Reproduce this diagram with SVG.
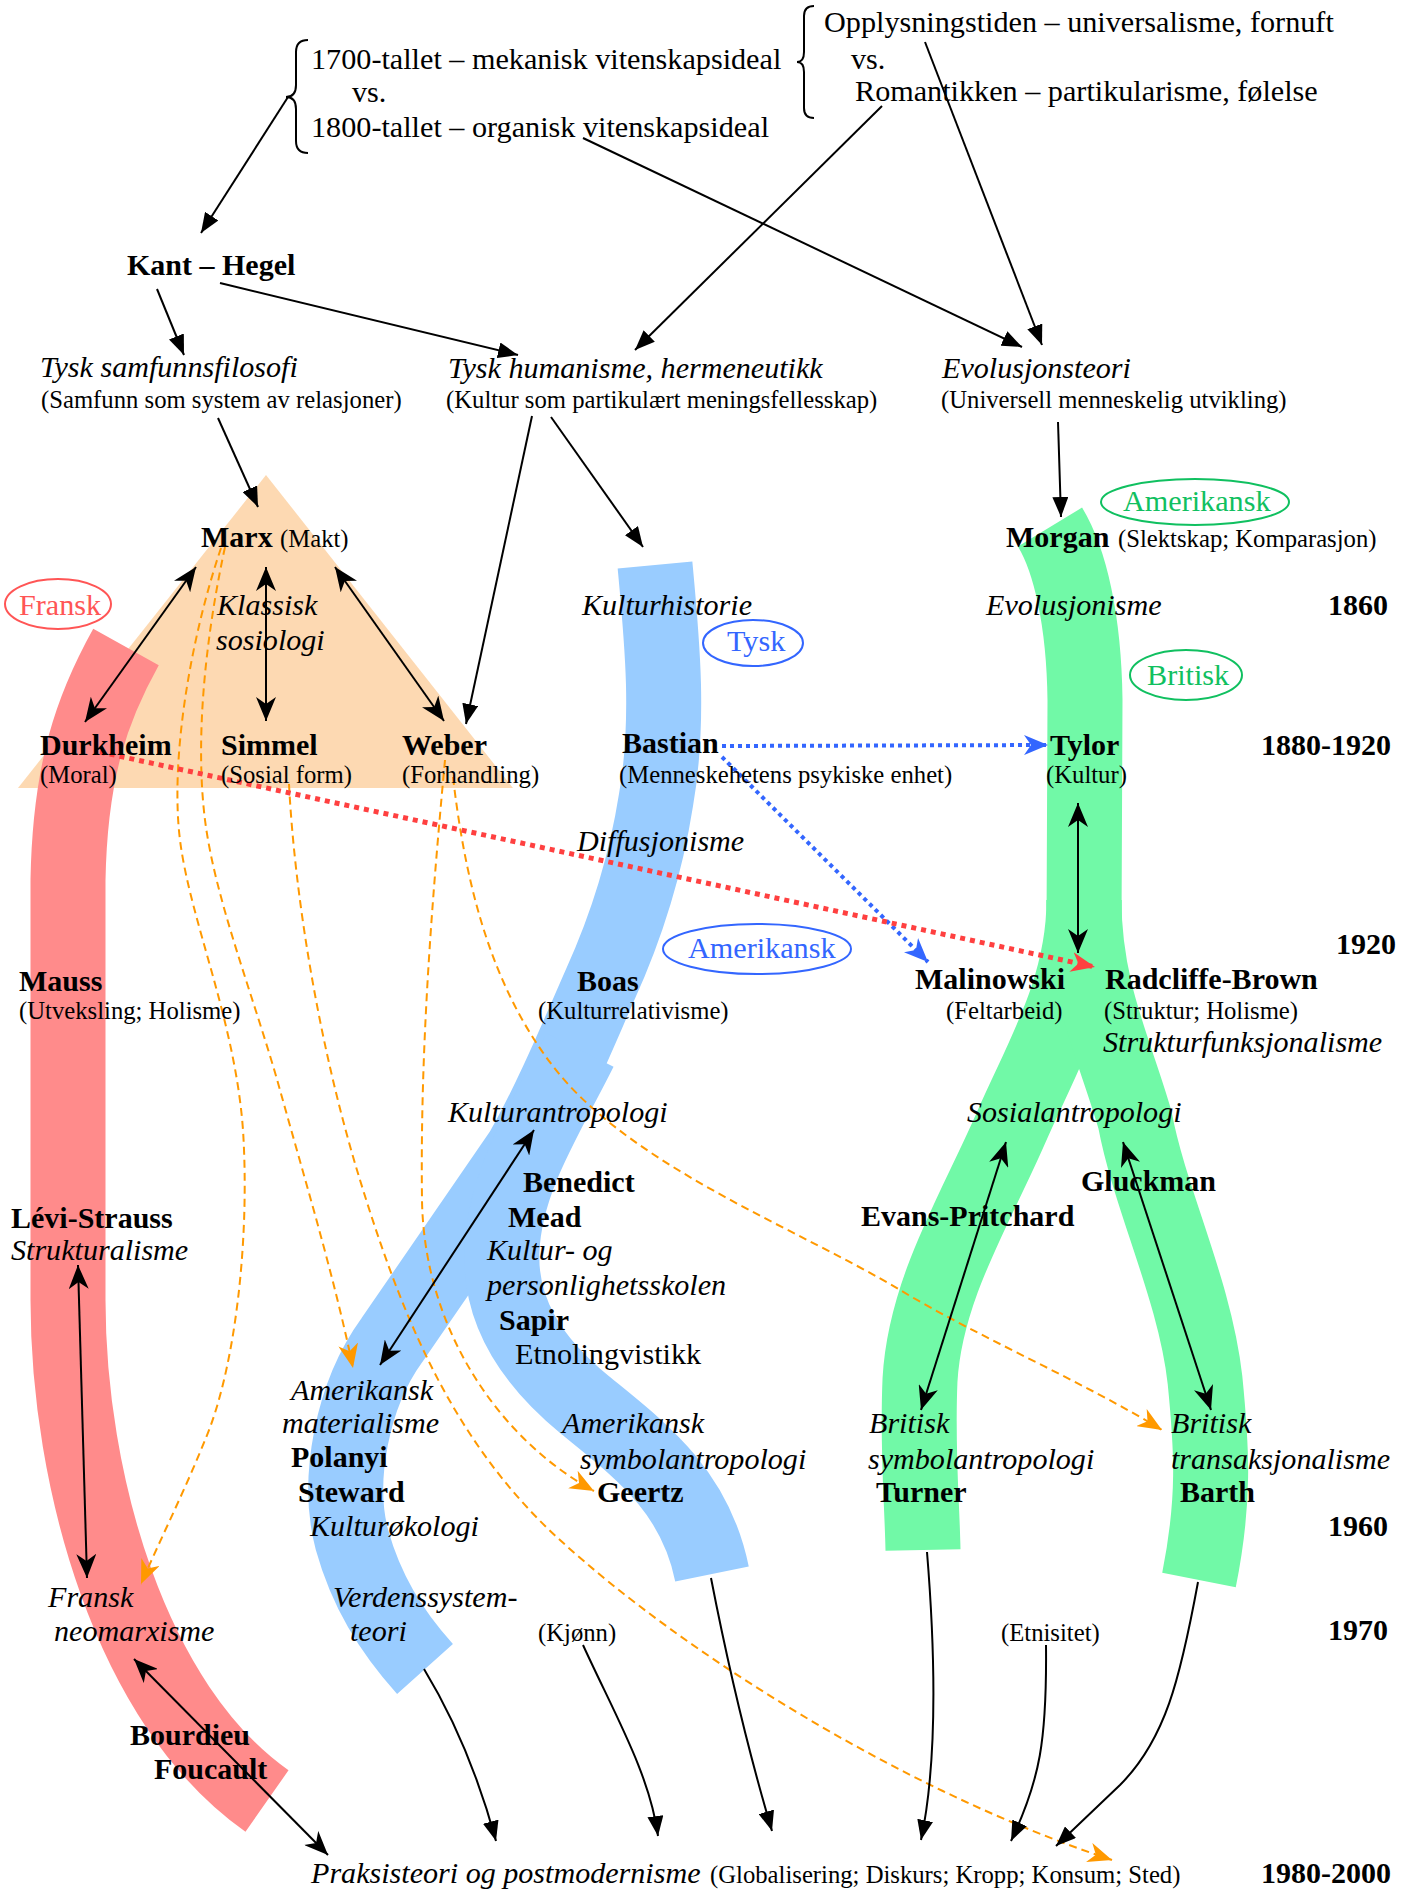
<svg xmlns="http://www.w3.org/2000/svg" width="1405" height="1891" viewBox="0 0 1405 1891">
<style>
text{font-family:"Liberation Serif","Times New Roman",serif;fill:#000}
.r{font-size:30.2px}
.b{font-size:30px;font-weight:bold}
.i{font-size:30.1px;font-style:italic}
.s{font-size:24.7px}
.ln{fill:none;stroke:#000;stroke-width:2}
.or{fill:none;stroke:#FF9900;stroke-width:2;stroke-dasharray:8 5}
.bd{fill:none;stroke:#3366FF;stroke-width:4;stroke-dasharray:4 4}
.rd{fill:none;stroke:#FF4040;stroke-width:5;stroke-dasharray:5 5}
.band{fill:none;stroke-width:75;stroke-linecap:butt;stroke-linejoin:round}
.ell{fill:none;stroke-width:2}
</style>
<defs>
<marker id="tri" viewBox="0 0 20 16" refX="20" refY="8" markerWidth="20" markerHeight="16" markerUnits="userSpaceOnUse" orient="auto"><path d="M0,0L20,8L0,16z" fill="#000"/></marker>
<marker id="stl" viewBox="0 0 24 20" refX="24" refY="10" markerWidth="24" markerHeight="20" markerUnits="userSpaceOnUse" orient="auto-start-reverse"><path d="M0,0L24,10L0,20L7,10z" fill="#000"/></marker>
<marker id="stlO" viewBox="0 0 24 20" refX="24" refY="10" markerWidth="24" markerHeight="20" markerUnits="userSpaceOnUse" orient="auto"><path d="M0,0L24,10L0,20L7,10z" fill="#FF9900"/></marker>
<marker id="stlB" viewBox="0 0 24 20" refX="24" refY="10" markerWidth="24" markerHeight="20" markerUnits="userSpaceOnUse" orient="auto"><path d="M0,0L24,10L0,20L7,10z" fill="#3366FF"/></marker>
<marker id="stlR" viewBox="0 0 24 20" refX="24" refY="10" markerWidth="24" markerHeight="20" markerUnits="userSpaceOnUse" orient="auto"><path d="M0,0L24,10L0,20L7,10z" fill="#FF4040"/></marker>
</defs>

<g id="bands">
<polygon id="triangle-klassisk" points="266,475 513,788 18,788" fill="#FDD9B2"/>
<path id="band-fransk" class="band" stroke="#FF8B8B" stroke-width="74" d="M126,647 C92,708 70,770 68,880 L68,1300 C68,1480 130,1705 267,1801"/>
<path id="band-tysk-amerikansk" class="band" stroke="#99CCFF" d="M655,565 C662,640 670,720 656,800 C645,870 625,930 600,985 C578,1035 552,1098 522,1151 L392,1340 C352,1395 336,1480 352,1540 C366,1590 390,1630 425,1669"/>
<path id="band-amerikansk-symbol" class="band" stroke="#99CCFF" d="M580,1050 C545,1120 505,1180 502,1250 C499,1310 530,1360 585,1405 C640,1450 695,1490 712,1574"/>
<path id="band-britisk-trunk" class="band" stroke="#71F9A7" d="M1050,527 C1070,560 1084,620 1085,700 L1084,930"/>
<path id="band-britisk-symbol" class="band" stroke="#71F9A7" d="M1084,900 C1084,990 1040,1060 1010,1130 C975,1210 925,1290 920,1380 C917,1450 922,1500 923,1550"/>
<path id="band-britisk-trans" class="band" stroke="#71F9A7" d="M1084,900 C1084,990 1115,1050 1135,1120 C1150,1200 1195,1290 1205,1380 C1212,1450 1215,1500 1199,1580"/>
</g>

<g id="connectors">
<path class="ln" d="M288,97 L201,233" marker-end="url(#tri)"/>
<path class="ln" d="M157,289 L184,355" marker-end="url(#tri)"/>
<path class="ln" d="M220,283 L518,355" marker-end="url(#tri)"/>
<path class="ln" d="M882,106 L635,350" marker-end="url(#tri)"/>
<path class="ln" d="M583,138 L1022,347" marker-end="url(#tri)"/>
<path class="ln" d="M925,42 L1042,345" marker-end="url(#tri)"/>
<path class="ln" d="M1058,422 L1061,517" marker-end="url(#tri)"/>
<path class="ln" d="M218,418 L258,507" marker-end="url(#tri)"/>
<path class="ln" d="M532,416 L466,724" marker-end="url(#tri)"/>
<path class="ln" d="M551,417 L643,547" marker-end="url(#tri)"/>

<path class="or" d="M221,548 C190,640 170,760 180,840 C190,920 235,1020 243,1130 C250,1240 235,1370 205,1440 C185,1490 160,1540 141,1584" marker-end="url(#stlO)"/>
<path class="or" d="M225,547 C205,640 195,740 205,820 C215,900 255,1000 280,1090 C305,1180 335,1280 353,1368" marker-end="url(#stlO)"/>
<path class="or" d="M289,784 C295,900 320,1050 360,1180 C400,1310 450,1440 560,1540 C680,1650 900,1790 1112,1860" marker-end="url(#stlO)"/>
<path class="or" d="M445,760 C432,900 420,1050 422,1200 C424,1330 500,1440 594,1491" marker-end="url(#stlO)"/>
<path class="or" d="M453,777 C465,880 490,990 560,1075 C640,1170 800,1230 900,1290 C980,1338 1080,1380 1162,1430" marker-end="url(#stlO)"/>

<path class="bd" d="M722,746 L1048,745" marker-end="url(#stlB)"/>
<path class="bd" d="M722,757 L928,962" marker-end="url(#stlB)"/>
<path class="rd" d="M100,752 L1095,967" marker-end="url(#stlR)"/>

<path class="ln" d="M196,567 L85,722" marker-start="url(#stl)" marker-end="url(#stl)"/>
<path class="ln" d="M266,567 L266,721" marker-start="url(#stl)" marker-end="url(#stl)"/>
<path class="ln" d="M335,567 L444,721" marker-start="url(#stl)" marker-end="url(#stl)"/>
<path class="ln" d="M1078,803 L1078,953" marker-start="url(#stl)" marker-end="url(#stl)"/>
<path class="ln" d="M534,1130 L380,1365" marker-start="url(#stl)" marker-end="url(#stl)"/>
<path class="ln" d="M1006,1142 L921,1410" marker-start="url(#stl)" marker-end="url(#stl)"/>
<path class="ln" d="M1123,1142 L1211,1410" marker-start="url(#stl)" marker-end="url(#stl)"/>
<path class="ln" d="M78,1265 L87,1578" marker-start="url(#stl)" marker-end="url(#stl)"/>
<path class="ln" d="M134,1659 L328,1855" marker-start="url(#stl)" marker-end="url(#stl)"/>

<path class="ln" d="M424,1669 C455,1720 478,1775 496,1841" marker-end="url(#tri)"/>
<path class="ln" d="M583,1645 C615,1715 650,1775 658,1836" marker-end="url(#tri)"/>
<path class="ln" d="M711,1578 C725,1650 745,1740 772,1831" marker-end="url(#tri)"/>
<path class="ln" d="M927,1552 C935,1650 938,1760 921,1840" marker-end="url(#tri)"/>
<path class="ln" d="M1046,1645 C1047,1740 1040,1780 1011,1841" marker-end="url(#tri)"/>
<path class="ln" d="M1198,1582 C1180,1680 1165,1740 1120,1785 L1056,1846" marker-end="url(#tri)"/>
</g>

<g id="n-vitenskapsideal">
<path class="ln" d="M308,40 Q296,40 296,52 L296,85 Q296,97 286,97 Q296,97 296,109 L296,141 Q296,153 308,153"/>
<text class="r" x="311" y="69">1700-tallet – mekanisk vitenskapsideal</text>
<text class="r" x="352" y="102">vs.</text>
<text class="r" x="311" y="137">1800-tallet – organisk vitenskapsideal</text>
</g>
<g id="n-opplysning">
<path class="ln" d="M814,6 Q804,6 804,16 L804,52 Q804,62 797,62 Q804,62 804,72 L804,108 Q804,118 814,118"/>
<text class="r" x="824" y="32">Opplysningstiden – universalisme, fornuft</text>
<text class="r" x="851" y="69">vs.</text>
<text class="r" x="855" y="101">Romantikken – partikularisme, følelse</text>
</g>
<g id="n-kant"><text class="b" x="127" y="275">Kant – Hegel</text></g>
<g id="n-samfunnsfilosofi">
<text class="i" x="40" y="377">Tysk samfunnsfilosofi</text>
<text class="s" x="41" y="408">(Samfunn som system av relasjoner)</text>
</g>
<g id="n-humanisme">
<text class="i" x="448" y="378">Tysk humanisme, hermeneutikk</text>
<text class="s" x="446" y="408">(Kultur som partikulært meningsfellesskap)</text>
</g>
<g id="n-evolusjonsteori">
<text class="i" x="942" y="378">Evolusjonsteori</text>
<text class="s" x="941" y="408">(Universell menneskelig utvikling)</text>
</g>

<g id="lbl-amerikansk-green">
<ellipse class="ell" cx="1195" cy="502" rx="94" ry="23" stroke="#10C060"/>
<text class="r" x="1123" y="511" style="fill:#10C060">Amerikansk</text>
</g>
<g id="lbl-fransk">
<ellipse class="ell" cx="58" cy="604" rx="53" ry="25" stroke="#FF5555"/>
<text class="r" x="19" y="615" style="fill:#FF5555">Fransk</text>
</g>
<g id="lbl-tysk">
<ellipse class="ell" cx="753" cy="643" rx="50" ry="23" stroke="#3366FF"/>
<text class="r" x="727" y="651" style="fill:#3366FF">Tysk</text>
</g>
<g id="lbl-britisk">
<ellipse class="ell" cx="1186" cy="675" rx="56" ry="25" stroke="#10C060"/>
<text class="r" x="1147" y="685" style="fill:#10C060">Britisk</text>
</g>
<g id="lbl-amerikansk-blue">
<ellipse class="ell" cx="757" cy="949" rx="94" ry="25" stroke="#3366FF"/>
<text class="r" x="688" y="958" style="fill:#3366FF">Amerikansk</text>
</g>

<g id="n-marx"><text class="b" x="201" y="547">Marx</text><text class="s" x="280" y="547">(Makt)</text></g>
<g id="n-morgan"><text class="b" x="1006" y="547">Morgan</text><text class="s" x="1118" y="547">(Slektskap; Komparasjon)</text></g>
<g id="n-klassisk"><text class="i" x="217" y="615">Klassisk</text><text class="i" x="216" y="650">sosiologi</text></g>
<g id="n-kulturhistorie"><text class="i" x="582" y="615">Kulturhistorie</text></g>
<g id="n-evolusjonisme"><text class="i" x="986" y="615">Evolusjonisme</text></g>
<g id="n-durkheim"><text class="b" x="40" y="755">Durkheim</text><text class="s" x="40" y="783">(Moral)</text></g>
<g id="n-simmel"><text class="b" x="221" y="755">Simmel</text><text class="s" x="221" y="783">(Sosial form)</text></g>
<g id="n-weber"><text class="b" x="402" y="755">Weber</text><text class="s" x="402" y="783">(Forhandling)</text></g>
<g id="n-bastian"><text class="b" x="622" y="753">Bastian</text><text class="s" x="619" y="783">(Menneskehetens psykiske enhet)</text></g>
<g id="n-tylor"><text class="b" x="1050" y="755">Tylor</text><text class="s" x="1046" y="783">(Kultur)</text></g>
<g id="n-diffusjonisme"><text class="i" x="577" y="851">Diffusjonisme</text></g>
<g id="n-mauss"><text class="b" x="19" y="991">Mauss</text><text class="s" x="19" y="1019">(Utveksling; Holisme)</text></g>
<g id="n-boas"><text class="b" x="577" y="991">Boas</text><text class="s" x="538" y="1019">(Kulturrelativisme)</text></g>
<g id="n-malinowski"><text class="b" x="915" y="989">Malinowski</text><text class="s" x="946" y="1019">(Feltarbeid)</text></g>
<g id="n-radcliffe"><text class="b" x="1105" y="989">Radcliffe-Brown</text><text class="s" x="1104" y="1019">(Struktur; Holisme)</text><text class="i" x="1103" y="1052">Strukturfunksjonalisme</text></g>
<g id="n-kulturantropologi"><text class="i" x="448" y="1122">Kulturantropologi</text></g>
<g id="n-sosialantropologi"><text class="i" x="967" y="1122">Sosialantropologi</text></g>
<g id="n-benedict"><text class="b" x="523" y="1192">Benedict</text><text class="b" x="508" y="1227">Mead</text><text class="i" x="487" y="1260">Kultur- og</text><text class="i" x="487" y="1295">personlighetsskolen</text></g>
<g id="n-sapir"><text class="b" x="499" y="1330">Sapir</text><text class="r" x="515" y="1364">Etnolingvistikk</text></g>
<g id="n-gluckman"><text class="b" x="1081" y="1191">Gluckman</text></g>
<g id="n-evans"><text class="b" x="861" y="1226">Evans-Pritchard</text></g>
<g id="n-levistrauss"><text class="b" x="11" y="1228">Lévi-Strauss</text><text class="i" x="11" y="1260">Strukturalisme</text></g>
<g id="n-materialisme"><text class="i" x="291" y="1400">Amerikansk</text><text class="i" x="282" y="1433">materialisme</text><text class="b" x="291" y="1467">Polanyi</text><text class="b" x="298" y="1502">Steward</text><text class="i" x="310" y="1536">Kulturøkologi</text></g>
<g id="n-amsymbol"><text class="i" x="562" y="1433">Amerikansk</text><text class="i" x="580" y="1469">symbolantropologi</text><text class="b" x="597" y="1502">Geertz</text></g>
<g id="n-brsymbol"><text class="i" x="869" y="1433">Britisk</text><text class="i" x="868" y="1469">symbolantropologi</text><text class="b" x="876" y="1502">Turner</text></g>
<g id="n-brtrans"><text class="i" x="1171" y="1433">Britisk</text><text class="i" x="1171" y="1469">transaksjonalisme</text><text class="b" x="1180" y="1502">Barth</text></g>
<g id="n-neomarx"><text class="i" x="48" y="1607">Fransk</text><text class="i" x="54" y="1641">neomarxisme</text></g>
<g id="n-verdenssystem"><text class="i" x="333" y="1607">Verdenssystem-</text><text class="i" x="350" y="1641">teori</text></g>
<g id="n-kjonn"><text class="s" x="538" y="1641">(Kjønn)</text></g>
<g id="n-etnisitet"><text class="s" x="1001" y="1641">(Etnisitet)</text></g>
<g id="n-bourdieu"><text class="b" x="130" y="1745">Bourdieu</text><text class="b" x="154" y="1779">Foucault</text></g>
<g id="n-praksis"><text class="i" x="311" y="1883">Praksisteori og postmodernisme</text><text class="s" x="710" y="1883">(Globalisering; Diskurs; Kropp; Konsum; Sted)</text></g>

<g id="years">
<text class="b" x="1328" y="615">1860</text>
<text class="b" x="1261" y="755">1880-1920</text>
<text class="b" x="1336" y="954">1920</text>
<text class="b" x="1328" y="1536">1960</text>
<text class="b" x="1328" y="1640">1970</text>
<text class="b" x="1261" y="1883">1980-2000</text>
</g>
</svg>
